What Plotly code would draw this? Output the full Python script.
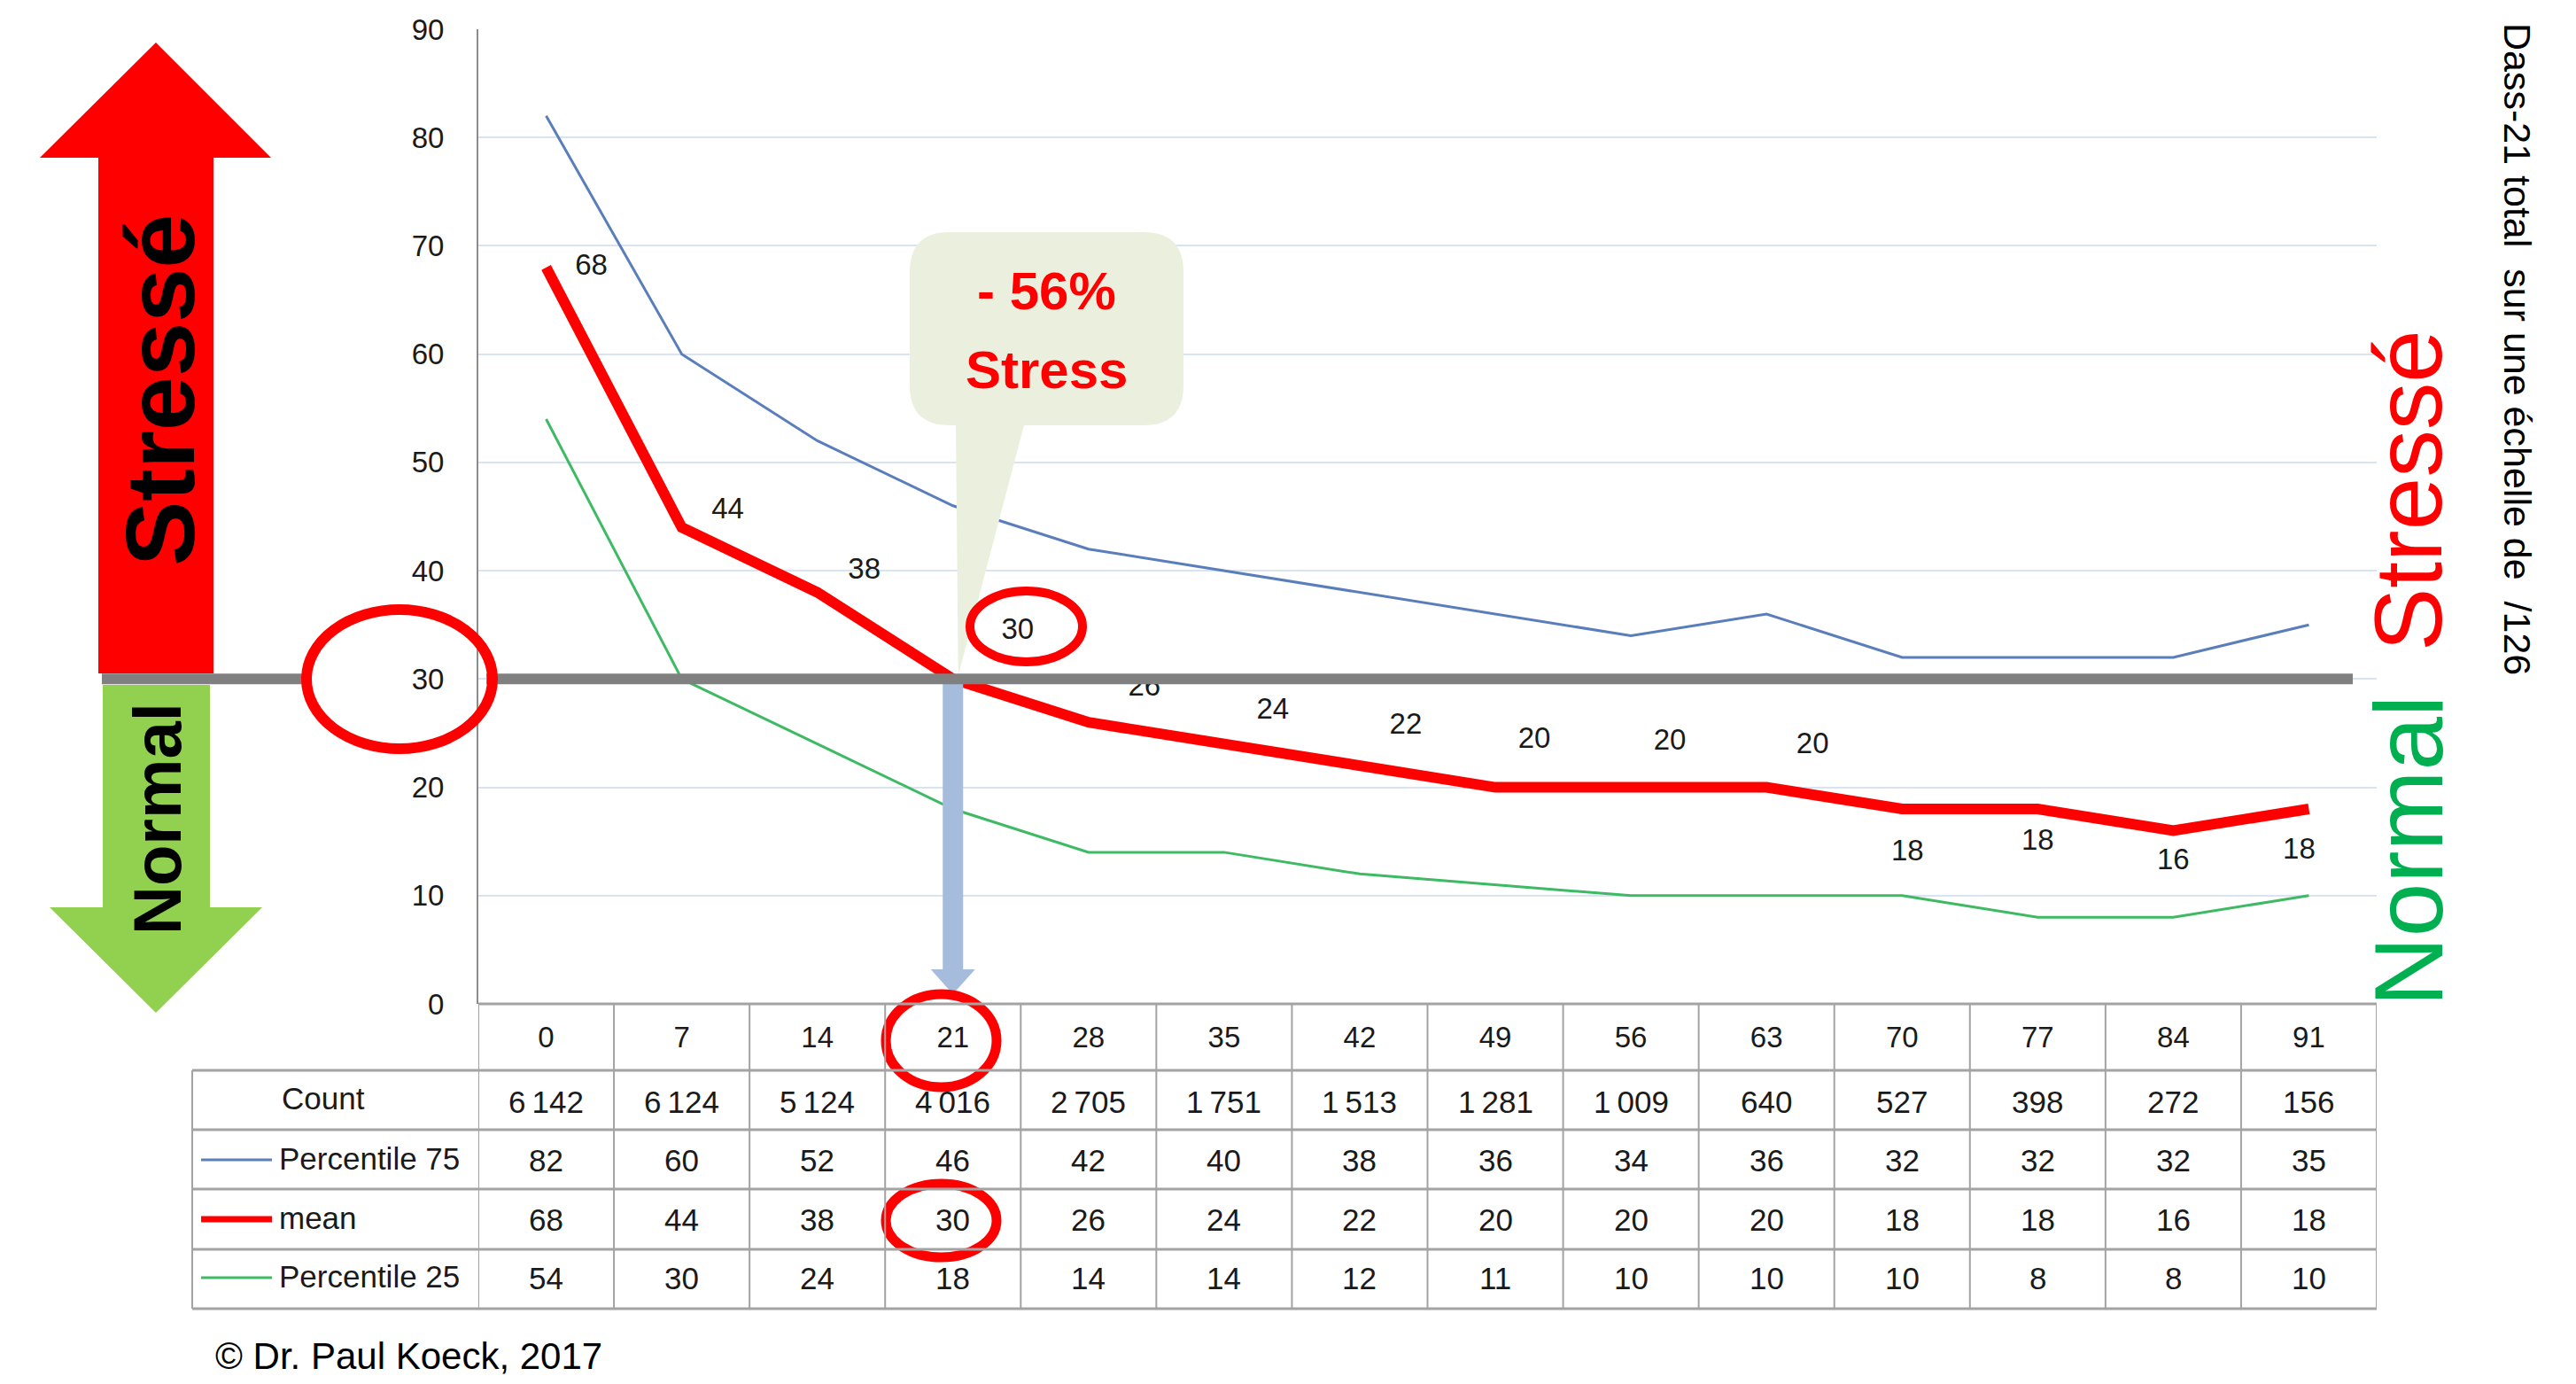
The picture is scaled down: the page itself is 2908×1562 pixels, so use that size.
import plotly.graph_objects as go

# ---------------- data ----------------
categories = [0, 7, 14, 21, 28, 35, 42, 49, 56, 63, 70, 77, 84, 91]
count = [6142, 6124, 5124, 4016, 2705, 1751, 1513, 1281, 1009, 640, 527, 398, 272, 156]
p75 = [82, 60, 52, 46, 42, 40, 38, 36, 34, 36, 32, 32, 32, 35]
mean = [68, 44, 38, 30, 26, 24, 22, 20, 20, 20, 18, 18, 16, 18]
p25 = [54, 30, 24, 18, 14, 14, 12, 11, 10, 10, 10, 8, 8, 10]
row_labels = ["Count", "Percentile 75", "mean", "Percentile 25"]
threshold = 30
highlight_day = 21
y_ticks = list(range(0, 91, 10))

# ---------------- layout geometry (pixels) ----------------
W, H = 2908, 1562
PL, PR, PT, PB = 540, 2683, 33, 1133          # plot area
colw = (PR - PL) / len(categories)
unit = (PB - PT) / 90.0


def X(px):
    return px / W


def Y(py):
    return 1 - py / H


def xpx(i):
    return PL + (i + 0.5) * colw


def ypx(v):
    return PB - v * unit


FONT = "Liberation Sans"
TXT = "#1a1a1a"
RED = "#ff0000"
BLUE = "#5a7ebc"
GREEN = "#3dba63"
GRID = "#d9e4f2"
TABLE = "#a3a3a3"

# label offsets for mean data labels (pixels, style only)
lab_dx = [51, 52, 53, 73, 63, 55, 52, 44, 44, 52, 6, 0, 0, -11]
lab_dy = [0, -18, -24, -54, -38, -37, -44, -53, -51, -47, 50, 38, 35, 48]

idx = categories.index(highlight_day)
xs = list(range(len(categories)))

fig = go.Figure()
fig.add_trace(go.Scatter(x=xs, y=p75, mode="lines", line=dict(color=BLUE, width=3),
                         name="Percentile 75", hoverinfo="skip"))
fig.add_trace(go.Scatter(x=xs, y=p25, mode="lines", line=dict(color=GREEN, width=3),
                         name="Percentile 25", hoverinfo="skip"))
fig.add_trace(go.Scatter(x=xs, y=mean, mode="lines", line=dict(color=RED, width=12),
                         name="mean", hoverinfo="skip"))
fig.add_trace(go.Scatter(
    x=[i + lab_dx[i] / colw for i in xs],
    y=[mean[i] - lab_dy[i] / unit for i in xs],
    mode="text", text=[str(v) for v in mean],
    textfont=dict(family=FONT, size=33, color=TXT), hoverinfo="skip"))

shapes = []
annotations = []


def P(a, b):
    return f"{X(a):.5f},{Y(b):.5f}"


def poly(pts):
    return "M " + " L ".join(P(a, b) for a, b in pts) + " Z"


# ---- left arrows ----
shapes.append(dict(type="path", xref="paper", yref="paper", layer="above",
                   path=poly([(176, 48), (306, 178), (241, 178), (241, 760), (111, 760),
                              (111, 178), (45, 178)]),
                   fillcolor=RED, line=dict(width=0)))
shapes.append(dict(type="path", xref="paper", yref="paper", layer="above",
                   path=poly([(116, 773), (237, 773), (237, 1024), (296, 1024), (176, 1143),
                              (56, 1024), (116, 1024)]),
                   fillcolor="#92d050", line=dict(width=0)))

# ---- callout ----
L, R, T, B, r = 1027, 1336, 262, 480, 45
tipx, tipy = xpx(idx) + 6, ypx(threshold) - 4
callout = (f"M {P(L + r, T)} L {P(R - r, T)} Q {P(R, T)} {P(R, T + r)} "
           f"L {P(R, B - r)} Q {P(R, B)} {P(R - r, B)} L {P(1156, B)} L {P(tipx, tipy)} "
           f"L {P(1079, B)} L {P(L + r, B)} Q {P(L, B)} {P(L, B - r)} L {P(L, T + r)} "
           f"Q {P(L, T)} {P(L + r, T)} Z")
shapes.append(dict(type="path", xref="paper", yref="paper", layer="above", path=callout,
                   fillcolor="#ebf0de", line=dict(width=0)))

# ---- blue arrow from threshold crossing down to x axis ----
hw = 11.5 / colw
shapes.append(dict(type="rect", xref="x", yref="y", layer="above",
                   x0=idx - hw, x1=idx + hw, y0=(PB - 1094) / unit, y1=threshold,
                   fillcolor="#a5bcdc", line=dict(width=0)))
hh = 25 / colw
shapes.append(dict(type="path", xref="x", yref="y", layer="above",
                   path=f"M {idx - hh},{(PB - 1094) / unit} L {idx + hh},{(PB - 1094) / unit} "
                        f"L {idx},{(PB - 1122) / unit} Z",
                   fillcolor="#a5bcdc", line=dict(width=0)))

# ---- threshold gray line (interrupted by circle) ----
for a, b in [(115, 344), (549, 2656)]:
    shapes.append(dict(type="line", xref="paper", yref="y", layer="above",
                       x0=X(a), x1=X(b), y0=threshold, y1=threshold,
                       line=dict(color="#808080", width=12)))

# ---- red circles ----
for (x0, y0, x1, y1, w) in [(346, 688, 556, 845, 12), (1095, 667, 1222, 747, 10),
                            (1000, 1122, 1125, 1227, 11), (1000, 1336, 1125, 1419, 11)]:
    shapes.append(dict(type="circle", xref="paper", yref="paper", layer="above",
                       x0=X(x0), x1=X(x1), y0=Y(y0), y1=Y(y1),
                       line=dict(color=RED, width=w), fillcolor="rgba(0,0,0,0)"))

# ---- table grid ----
row_lines = [1208, 1275, 1342, 1410, 1477]
row_centers = [1243, 1309, 1376, 1442]
shapes.append(dict(type="line", xref="paper", yref="paper", x0=X(PL), x1=X(PR),
                   y0=Y(PB), y1=Y(PB), line=dict(color=TABLE, width=3)))
for yl in row_lines:
    shapes.append(dict(type="line", xref="paper", yref="paper", x0=X(217), x1=X(PR),
                       y0=Y(yl), y1=Y(yl), line=dict(color=TABLE, width=3)))
for k in range(len(categories) + 1):
    shapes.append(dict(type="line", xref="x", yref="paper", x0=k - 0.5, x1=k - 0.5,
                       y0=Y(PB), y1=Y(1477), line=dict(color=TABLE, width=2)))
shapes.append(dict(type="line", xref="paper", yref="paper", x0=X(217), x1=X(217),
                   y0=Y(1208), y1=Y(1477), line=dict(color=TABLE, width=2)))

# legend samples in the table
for yc, col, w in [(row_centers[1], BLUE, 3), (row_centers[2], RED, 7), (row_centers[3], GREEN, 3)]:
    shapes.append(dict(type="line", xref="paper", yref="paper", x0=X(227), x1=X(307),
                       y0=Y(yc), y1=Y(yc), line=dict(color=col, width=w)))


def fmt(n):
    return f"{n:,}".replace(",", "\u2009")


rows = [[fmt(v) for v in count], [str(v) for v in p75], [str(v) for v in mean],
        [str(v) for v in p25]]
for ri, vals in enumerate(rows):
    for i, t in enumerate(vals):
        annotations.append(dict(x=i, y=Y(row_centers[ri]), xref="x", yref="paper", text=t,
                                showarrow=False, xanchor="center", yanchor="middle",
                                font=dict(family=FONT, size=35, color=TXT)))

annotations.append(dict(x=X(365), y=Y(row_centers[0] - 4), xref="paper", yref="paper",
                        text=row_labels[0], showarrow=False, xanchor="center", yanchor="middle",
                        font=dict(family=FONT, size=35, color=TXT)))
for ri in (1, 2, 3):
    annotations.append(dict(x=X(313), y=Y(row_centers[ri] - 2), xref="paper", yref="paper",
                            text=row_labels[ri], showarrow=False, xanchor="left", yanchor="middle",
                            font=dict(family=FONT, size=35, color=TXT)))


def label(px, py, text, size, color, angle=0, bold=False, xanchor="center"):
    return dict(x=X(px), y=Y(py), xref="paper", yref="paper", text=text, showarrow=False,
                xanchor=xanchor, yanchor="middle", textangle=angle,
                font=dict(family=FONT, size=size, color=color,
                          weight="bold" if bold else "normal"))


annotations += [
    label(1181, 328, "- 56%", 60, RED, bold=True),
    label(1181, 418, "Stress", 60, RED, bold=True),
    label(180, 440, "Stressé", 110, "#000000", angle=-90, bold=True),
    label(177, 924, "Normal", 76, "#000000", angle=-90, bold=True),
    label(2719, 961, "Normal", 109, "#00b050", angle=-90),
    label(2719, 554, "Stressé", 107, RED, angle=-90),
    label(2842, 394, "Dass-21 total\u00a0 sur une échelle de\u00a0 /126", 43, "#000000", angle=90),
    label(241, 1530, "© Dr. Paul Koeck, 2017", 42, "#000000", xanchor="left"),
]

fig.update_layout(
    width=W, height=H, margin=dict(l=0, r=0, t=0, b=0, pad=0, autoexpand=False),
    paper_bgcolor="white", plot_bgcolor="white", showlegend=False,
    shapes=shapes, annotations=annotations,
    xaxis=dict(domain=[X(PL), X(PR)], range=[-0.5, len(categories) - 0.5],
               tickvals=xs, ticktext=[str(c) for c in categories], showgrid=False,
               zeroline=False, showline=False, ticks="", ticklabelstandoff=15,
               automargin=False,
               tickfont=dict(family=FONT, size=33, color=TXT), fixedrange=True),
    yaxis=dict(domain=[Y(PB), Y(PT)], range=[0, 90], tickvals=y_ticks, showgrid=True,
               gridcolor=GRID, gridwidth=2, zeroline=False, showline=True,
               linecolor="#8c8c8c", linewidth=2, ticks="", ticklabelstandoff=30,
               automargin=False,
               tickfont=dict(family=FONT, size=33, color=TXT), fixedrange=True),
)

fig.write_html("out.html")
